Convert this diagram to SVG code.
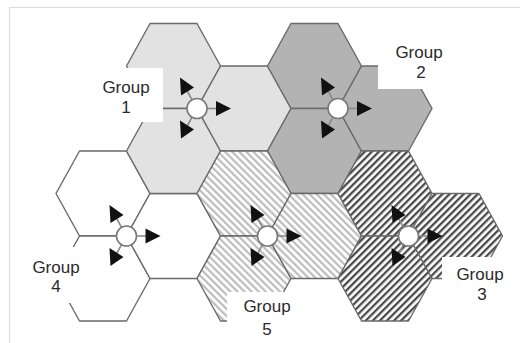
<svg xmlns="http://www.w3.org/2000/svg" xmlns:xlink="http://www.w3.org/1999/xlink" width="520" height="343" viewBox="0 0 520 343">
<defs>
  <pattern id="hatchLight" patternUnits="userSpaceOnUse" width="5" height="5" patternTransform="rotate(-45)">
    <rect width="5" height="5" fill="#ffffff"/>
    <rect width="2.2" height="5" fill="#bdbdbd"/>
  </pattern>
  <pattern id="hatchDark" patternUnits="userSpaceOnUse" width="5" height="5" patternTransform="rotate(45)">
    <rect width="5" height="5" fill="#ffffff"/>
    <rect width="2.3" height="5" fill="#4a4a4a"/>
  </pattern>
  <polygon id="hex" points="-47,0 -23.5,-42.5 23.5,-42.5 47,0 23.5,42.5 -23.5,42.5"/>
  <g id="bs">
    <g stroke="#8a8a8a" stroke-width="1.6" fill="none">
      <line x1="10" y1="0" x2="20" y2="0"/>
      <line x1="-5" y1="-8.7" x2="-9.5" y2="-17"/>
      <line x1="-5" y1="8.7" x2="-9.5" y2="17"/>
    </g>
    <circle r="10" fill="#ffffff" stroke="#7a7a7a" stroke-width="1.6"/>
    <g fill="#111111">
      <polygon points="19,-7.5 19,7.5 34,0"/>
      <polygon points="-17,-31 -16,-13 -3,-21"/>
      <polygon points="-17,12 -16,30 -3,21"/>
    </g>
  </g>
  <style>
    .cell { stroke: #6a6a6a; stroke-width: 1.4; stroke-linejoin: round; }
    .g1 { fill: #e2e2e2; }
    .g2 { fill: #b3b3b3; }
    .g4 { fill: #ffffff; }
    .g5 { fill: url(#hatchLight); }
    .g3 { fill: url(#hatchDark); }
    .box { fill: #ffffff; }
    .lbl { font-family: "Liberation Sans", Arial, sans-serif; font-size: 17px; fill: #2a2a2a; text-anchor: middle; }
  </style>
</defs>
<rect width="520" height="343" fill="#ffffff"/>
<g id="frame" stroke="#dedede" stroke-width="1.2" fill="none">
  <line x1="9" y1="7.5" x2="520" y2="7.5"/>
  <line x1="9.5" y1="7" x2="9.5" y2="343"/>
</g>

<g id="group4-cells">
  <use xlink:href="#hex" href="#hex" class="cell g4" x="103" y="193.5"/>
  <use xlink:href="#hex" href="#hex" class="cell g4" x="103" y="278.5"/>
  <use xlink:href="#hex" href="#hex" class="cell g4" x="173.5" y="236"/>
</g>
<g id="group1-cells">
  <use xlink:href="#hex" href="#hex" class="cell g1" x="173.5" y="66"/>
  <use xlink:href="#hex" href="#hex" class="cell g1" x="173.5" y="151"/>
  <use xlink:href="#hex" href="#hex" class="cell g1" x="244" y="108.5"/>
</g>
<g id="group2-cells">
  <use xlink:href="#hex" href="#hex" class="cell g2" x="314.5" y="66"/>
  <use xlink:href="#hex" href="#hex" class="cell g2" x="314.5" y="151"/>
  <use xlink:href="#hex" href="#hex" class="cell g2" x="385" y="108.5"/>
</g>
<g id="group5-cells">
  <use xlink:href="#hex" href="#hex" class="cell g5" x="244" y="193.5"/>
  <use xlink:href="#hex" href="#hex" class="cell g5" x="244" y="278.5"/>
  <use xlink:href="#hex" href="#hex" class="cell g5" x="314.5" y="236"/>
</g>
<g id="group3-cells">
  <use xlink:href="#hex" href="#hex" class="cell g3" x="385" y="193.5"/>
  <use xlink:href="#hex" href="#hex" class="cell g3" x="385" y="278.5"/>
  <use xlink:href="#hex" href="#hex" class="cell g3" x="455.5" y="236"/>
</g>

<g id="stations">
  <use xlink:href="#bs" href="#bs" x="197" y="108.5"/>
  <use xlink:href="#bs" href="#bs" x="338" y="108.5"/>
  <use xlink:href="#bs" href="#bs" x="126.5" y="236"/>
  <use xlink:href="#bs" href="#bs" x="267.5" y="236"/>
  <use xlink:href="#bs" href="#bs" x="408.5" y="236"/>
</g>

<g id="label1">
  <rect class="box" x="95" y="68" width="68" height="54"/>
  <text class="lbl" x="126" y="93">Group</text>
  <text class="lbl" x="126" y="113">1</text>
</g>
<g id="label2">
  <rect class="box" x="378" y="28" width="84" height="61"/>
  <text class="lbl" x="419" y="58">Group</text>
  <text class="lbl" x="421" y="78">2</text>
</g>
<g id="label4">
  <rect class="box" x="20" y="247" width="57" height="56"/>
  <text class="lbl" x="56" y="273">Group</text>
  <text class="lbl" x="56" y="292">4</text>
</g>
<g id="label3">
  <rect class="box" x="442" y="257" width="74" height="50"/>
  <text class="lbl" x="480" y="280">Group</text>
  <text class="lbl" x="482" y="300">3</text>
</g>
<g id="label5">
  <rect class="box" x="227" y="292" width="75" height="51"/>
  <text class="lbl" x="267" y="312">Group</text>
  <text class="lbl" x="267" y="335">5</text>
</g>
</svg>
